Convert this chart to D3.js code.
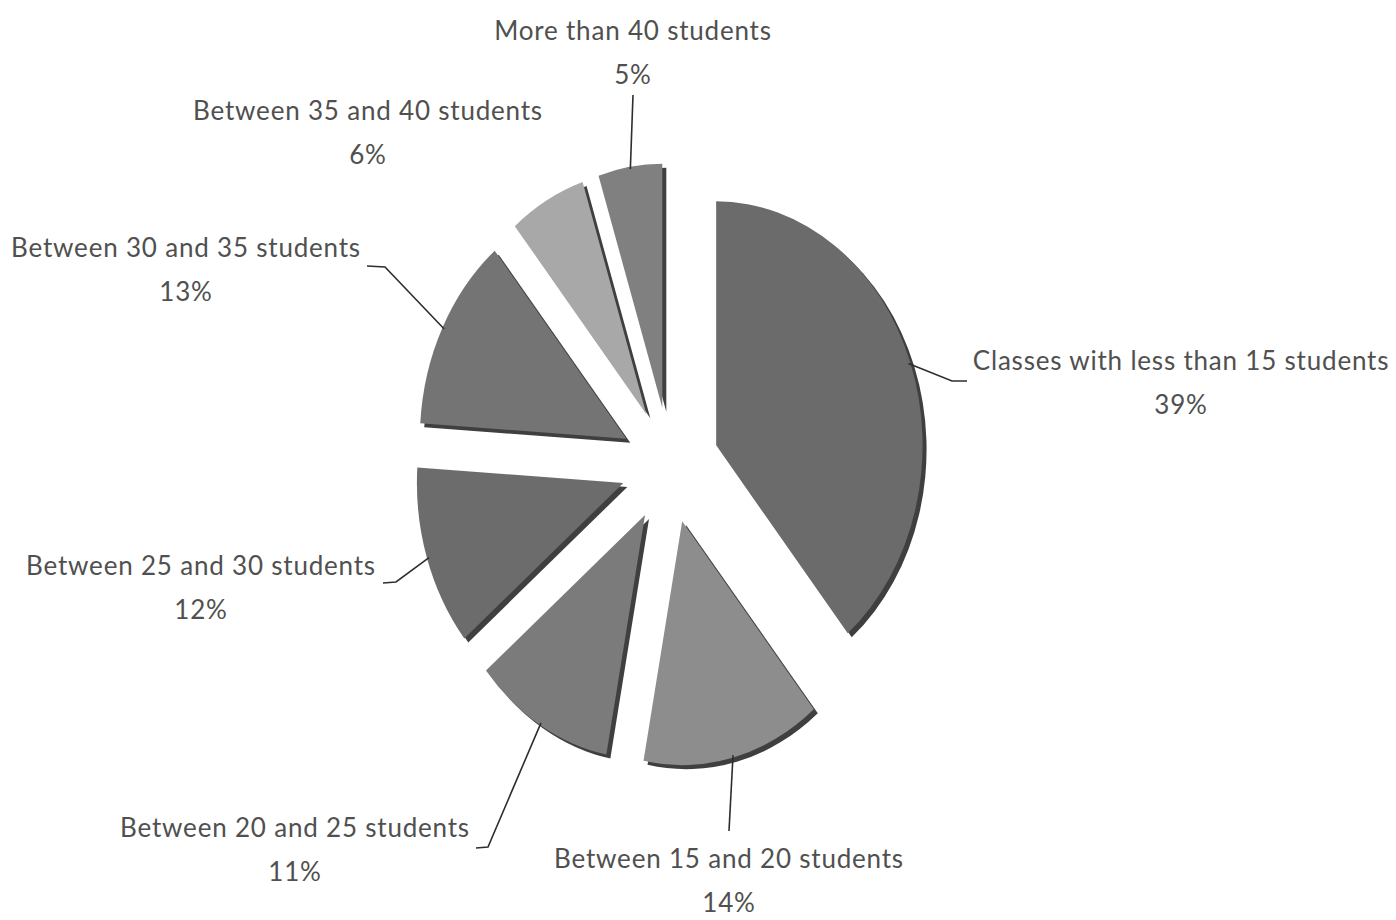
<!DOCTYPE html>
<html>
<head>
<meta charset="utf-8">
<script src="https://cdn.jsdelivr.net/npm/d3@7"></script>
<style>
  html, body { margin: 0; padding: 0; background: #fff; }
  svg { display: block; }
  .label { font-family: Lato, "Open Sans", sans-serif; font-size: 26px; fill: #505050; letter-spacing: 0.8px; }
  .leader { fill: none; stroke: #2e2e2e; stroke-width: 1.6px; }
</style>
</head>
<body>
<div id="chart"></div>
<script>
// Data, in pie order (clockwise from 12 o'clock)
const categories = [
  "Classes with less than 15 students",
  "Between 15 and 20 students",
  "Between 20 and 25 students",
  "Between 25 and 30 students",
  "Between 30 and 35 students",
  "Between 35 and 40 students",
  "More than 40 students",
];
const shares = [39, 14, 11, 12, 13, 6, 5];
const percentLabels = ["39%", "14%", "11%", "12%", "13%", "6%", "5%"];

// Styling / layout (kept apart from the data)
const sliceColors = ["#6b6b6b", "#8d8d8d", "#7b7b7b", "#6c6c6c", "#747474", "#a8a8a8", "#808080"];
const depthColor = "#3f3f3f";
// label anchor (text centre) and leader elbow points, per slice
const labelLayout = [
  { x: 1181, y: 360, leader: [[952, 381], [967, 381]] },
  { x: 729, y: 858, leader: [[729, 831]] },
  { x: 295, y: 827, leader: [[488, 847], [476, 848]] },
  { x: 201, y: 565, leader: [[396, 582], [383, 583]] },
  { x: 186, y: 247, leader: [[385, 267], [367, 266]] },
  { x: 368, y: 110, leader: [] },
  { x: 633, y: 30, leader: [[633, 95]] },
];

const width = 1396;
const height = 920;
const cx = 670;
const cy = 465;
const radius = 244;
const squash = 0.846; // horizontal compression of the tilted pie
const explode = 58;
const depth = [4, 4];

const svg = d3.select("#chart").append("svg").attr("width", width).attr("height", height);

const pie = d3.pie().sort(null).value((d) => d);
const arcs = pie(shares);
const arc = d3.arc().innerRadius(0).outerRadius(radius);

// apex of each exploded slice on screen
const apex = (a) => {
  const mid = (a.startAngle + a.endAngle) / 2;
  return [cx + squash * explode * Math.sin(mid), cy - explode * Math.cos(mid)];
};

const slices = svg
  .selectAll("g.slice")
  .data(arcs)
  .join("g")
  .attr("class", "slice")
  .attr("transform", (a) => `translate(${apex(a)})`);

// dark side of the slice, peeking out to the lower right
slices
  .append("path")
  .attr("transform", `translate(${depth}) scale(${squash},1)`)
  .attr("fill", depthColor)
  .attr("d", arc);

slices
  .append("path")
  .attr("transform", `scale(${squash},1)`)
  .attr("fill", (a, i) => sliceColors[i])
  .attr("d", arc);

// leader lines from the outer rim at the slice's mid angle
svg
  .selectAll("path.leader")
  .data(arcs.filter((a, i) => labelLayout[i].leader.length))
  .join("path")
  .attr("class", "leader")
  .attr("d", (a) => {
    const mid = (a.startAngle + a.endAngle) / 2;
    const [ax, ay] = apex(a);
    const start = [ax + squash * radius * 0.99 * Math.sin(mid), ay - radius * 0.99 * Math.cos(mid)];
    return d3.line()([start, ...labelLayout[a.index].leader]);
  });

const labels = svg
  .selectAll("g.label-group")
  .data(arcs)
  .join("g")
  .attr("class", "label-group")
  .attr("transform", (a) => `translate(${labelLayout[a.index].x},${labelLayout[a.index].y})`);

labels
  .append("text")
  .attr("class", "label")
  .attr("text-anchor", "middle")
  .attr("dominant-baseline", "central")
  .text((a) => categories[a.index]);

labels
  .append("text")
  .attr("class", "label")
  .attr("text-anchor", "middle")
  .attr("dominant-baseline", "central")
  .attr("y", 44)
  .text((a) => percentLabels[a.index]);
</script>
</body>
</html>
